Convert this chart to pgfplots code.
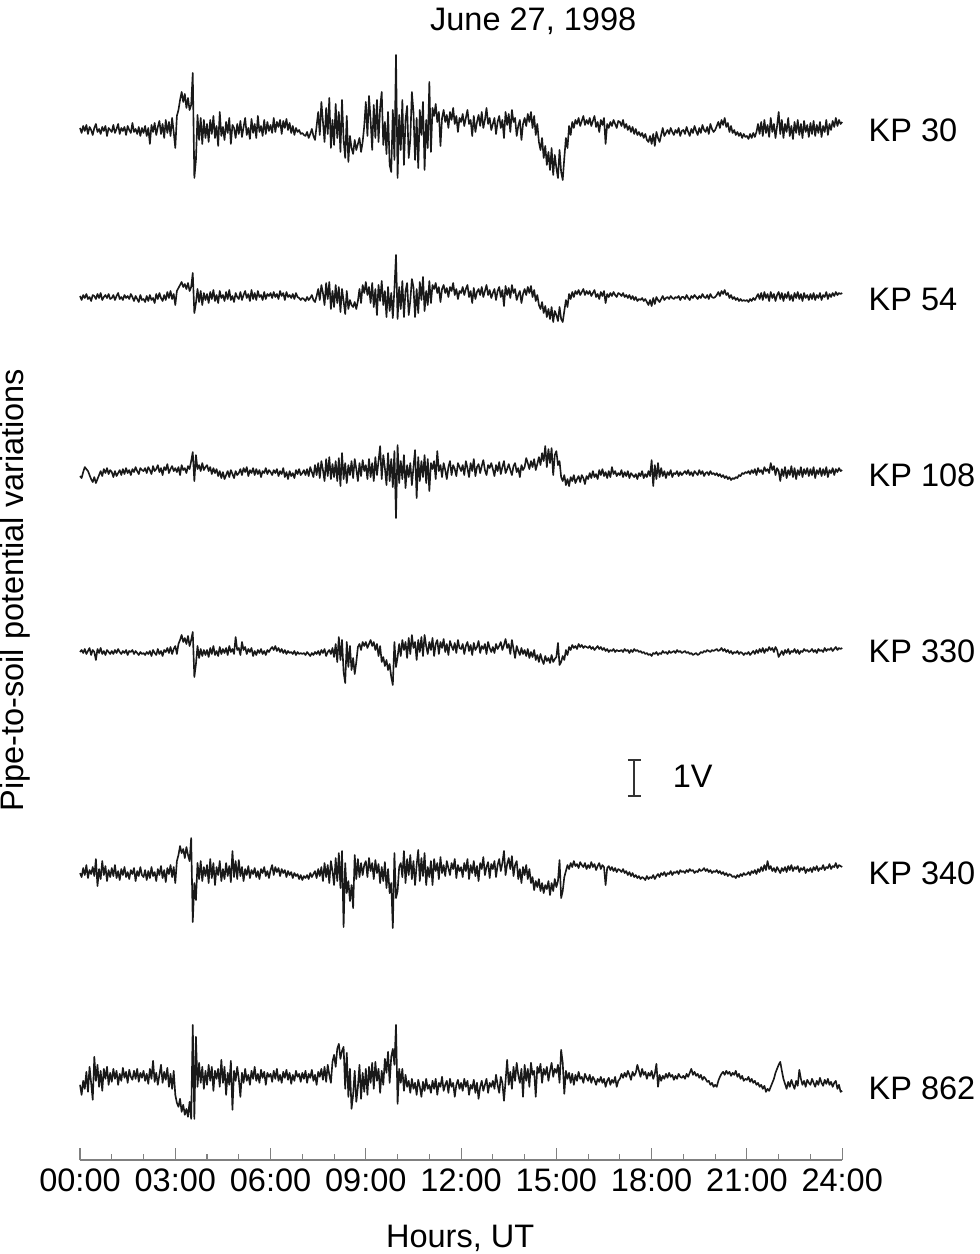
\documentclass[border=0pt]{standalone}
\usepackage{fontspec}
\setmainfont{Liberation Sans}
\usepackage{pgfplots}
\usepackage{pgfplotstable}
\pgfplotsset{compat=1.18}

% one value every 3 minutes (0.05 h), 20 per line = one hour per line
% values are deviations in 1/36 V, positive up
\pgfplotstableread[row sep=\\]{v\\%
2\\-3\\4\\-1\\5\\-4\\3\\0\\-5\\2\\6\\-2\\1\\-4\\3\\-1\\4\\-6\\2\\0\\%
-2\\5\\-3\\1\\6\\-4\\2\\-1\\3\\-5\\4\\0\\-3\\7\\-2\\1\\-4\\3\\-6\\2\\%
-3\\4\\-6\\2\\-14\\5\\-2\\7\\-5\\3\\9\\-4\\6\\-8\\10\\-3\\8\\-6\\12\\-2\\%
-18\\14\\20\\30\\38\\28\\36\\22\\32\\20\\25\\57\\-48\\-30\\15\\-10\\12\\-14\\10\\-8\\%
6\\-12\\10\\-4\\14\\-8\\4\\-16\\18\\-6\\3\\-10\\8\\-3\\12\\-14\\5\\2\\-8\\6\\%
-4\\9\\-7\\3\\12\\-5\\2\\-9\\11\\-3\\6\\-8\\14\\-2\\4\\-6\\10\\-4\\8\\-1\\%
5\\-3\\12\\-2\\8\\3\\10\\-4\\9\\2\\11\\0\\7\\-3\\4\\-5\\2\\-2\\0\\-4\\%
-3\\-5\\-6\\-2\\-8\\-4\\1\\-6\\-10\\4\\18\\-5\\28\\8\\-12\\22\\-4\\32\\-18\\10\\%
-15\\26\\-8\\18\\-22\\30\\-10\\-28\\14\\-32\\-6\\-18\\-24\\-10\\-20\\-14\\-8\\-22\\-12\\4\\%
28\\-6\\34\\10\\-20\\25\\-8\\30\\-12\\22\\38\\-15\\8\\-24\\18\\-35\\-42\\20\\-30\\75\\%
-48\\15\\-20\\30\\-35\\10\\24\\-28\\-10\\38\\18\\-30\\12\\-38\\20\\-5\\28\\-40\\10\\-18\\%
48\\-22\\22\\14\\26\\8\\18\\-16\\12\\20\\8\\15\\2\\18\\10\\22\\6\\14\\-2\\12\\%
8\\16\\4\\12\\20\\6\\10\\-6\\14\\-2\\8\\15\\4\\18\\2\\10\\22\\6\\12\\0\\%
6\\12\\-4\\8\\14\\2\\10\\-8\\18\\5\\16\\-2\\20\\8\\12\\-6\\4\\10\\-10\\6\\%
12\\4\\16\\8\\18\\2\\14\\-5\\6\\-12\\-20\\-8\\-28\\-16\\-35\\-22\\-40\\-18\\-45\\-25\\%
-38\\-48\\-20\\-42\\-50\\-28\\-8\\-18\\4\\-5\\8\\2\\10\\6\\12\\4\\9\\14\\5\\10\\%
6\\12\\4\\9\\14\\3\\8\\-2\\10\\5\\12\\-14\\6\\2\\8\\4\\10\\6\\2\\9\\%
8\\4\\10\\2\\6\\0\\4\\-2\\3\\-4\\1\\-5\\-2\\-6\\-3\\-8\\-4\\-10\\-12\\-6\\%
-14\\-4\\-16\\-2\\-8\\-12\\-5\\2\\-6\\-3\\0\\-4\\2\\-2\\-5\\0\\-3\\2\\-6\\-1\\%
0\\-4\\3\\-2\\-6\\1\\-3\\4\\-1\\-5\\2\\-3\\5\\0\\-2\\3\\-4\\6\\1\\-2\\%
0\\4\\8\\2\\10\\5\\12\\3\\7\\-2\\4\\-3\\0\\-5\\-2\\-6\\-3\\-8\\-4\\-7\\%
-6\\-9\\-4\\-8\\-3\\-7\\-2\\6\\-4\\8\\-6\\10\\-3\\5\\-7\\12\\-2\\6\\-8\\4\\%
18\\-4\\10\\-8\\6\\-2\\12\\-6\\4\\-9\\8\\-3\\10\\-5\\6\\-8\\9\\-2\\5\\-7\\%
7\\-4\\9\\-6\\5\\-3\\8\\-7\\4\\-2\\10\\-5\\6\\0\\9\\3\\12\\4\\10\\6\\%
8\\%
}\kpA

\pgfplotstableread[row sep=\\]{v\\%
1\\-3\\2\\-1\\3\\-2\\0\\-4\\2\\1\\-2\\3\\-1\\4\\-3\\0\\2\\-1\\3\\-2\\%
-1\\2\\-3\\1\\4\\-2\\0\\-3\\2\\-1\\1\\-2\\3\\0\\-4\\1\\-2\\-5\\2\\-3\\%
-2\\-5\\1\\-4\\2\\-3\\-1\\-6\\3\\-2\\4\\-1\\-4\\2\\-3\\5\\-1\\6\\-2\\3\\%
-8\\6\\9\\12\\15\\10\\13\\8\\14\\6\\10\\24\\-16\\-6\\8\\-5\\6\\-8\\4\\-3\\%
3\\-6\\5\\-2\\7\\-4\\2\\-6\\6\\-1\\2\\-4\\5\\-2\\7\\-3\\1\\-5\\4\\0\\%
-2\\5\\-3\\2\\6\\-1\\3\\-4\\7\\-2\\4\\-3\\6\\0\\2\\-3\\5\\-2\\3\\1\\%
4\\-1\\5\\0\\3\\-2\\6\\1\\4\\-3\\5\\0\\2\\-1\\3\\-2\\4\\0\\-1\\-3\\%
-1\\-2\\-4\\0\\-3\\-1\\2\\-3\\-5\\1\\8\\-3\\12\\4\\-8\\14\\-2\\15\\-12\\6\\%
-10\\12\\-6\\10\\-15\\8\\-4\\-17\\6\\-12\\-3\\-8\\-10\\-5\\-12\\-4\\8\\-6\\12\\4\\%
15\\2\\10\\-6\\14\\-10\\8\\-18\\12\\-4\\16\\-8\\6\\-20\\10\\-14\\4\\-21\\8\\42\\%
-22\\10\\-12\\16\\-20\\6\\14\\-18\\-4\\18\\10\\-20\\8\\-16\\15\\-3\\20\\-14\\6\\-8\\%
16\\-6\\12\\8\\14\\4\\10\\-5\\8\\12\\4\\9\\0\\10\\6\\14\\2\\8\\-2\\6\\%
4\\10\\2\\8\\12\\0\\6\\-6\\9\\-2\\5\\8\\2\\10\\0\\6\\12\\2\\7\\-1\\%
4\\8\\-3\\6\\10\\0\\7\\-9\\11\\2\\9\\-1\\12\\4\\8\\-3\\2\\6\\-6\\3\\%
8\\2\\10\\4\\11\\0\\7\\-4\\2\\-8\\-12\\-5\\-16\\-9\\-20\\-12\\-22\\-10\\-25\\-14\\%
-18\\-24\\-10\\-22\\-25\\-14\\-3\\-10\\3\\-2\\5\\0\\6\\3\\7\\2\\5\\8\\2\\6\\%
3\\6\\1\\4\\7\\0\\3\\-2\\5\\1\\6\\-6\\3\\0\\4\\1\\5\\2\\0\\4\\%
3\\1\\4\\0\\2\\-1\\2\\-2\\1\\-3\\0\\-4\\-2\\-3\\-1\\-4\\-2\\-5\\-8\\-3\\%
-9\\-1\\-7\\0\\-3\\-5\\-2\\1\\-3\\-1\\0\\-2\\1\\-1\\-2\\0\\-1\\1\\-3\\0\\%
0\\-2\\2\\-1\\-3\\1\\-1\\2\\0\\-2\\1\\-1\\3\\0\\-1\\2\\-2\\3\\0\\-1\\%
0\\2\\5\\1\\6\\3\\7\\2\\4\\-1\\2\\-2\\0\\-3\\-1\\-4\\-2\\-4\\-3\\-4\\%
-3\\-5\\-2\\-4\\-1\\-3\\0\\3\\-2\\4\\-3\\5\\-1\\3\\-4\\5\\-1\\3\\-4\\2\\%
5\\-2\\4\\-4\\3\\-1\\5\\-3\\2\\-4\\4\\-1\\5\\-2\\3\\-4\\4\\-1\\2\\-3\\%
3\\-2\\4\\-3\\2\\-1\\4\\-3\\2\\0\\5\\-2\\3\\0\\4\\1\\5\\2\\4\\3\\%
4\\%
}\kpB

\pgfplotstableread[row sep=\\]{v\\%
-3\\-5\\1\\6\\4\\2\\-2\\-6\\-9\\-4\\-10\\-6\\-2\\2\\-3\\4\\0\\5\\-1\\3\\%
1\\-4\\2\\-3\\0\\3\\-2\\4\\-1\\5\\0\\3\\-2\\4\\1\\6\\2\\-1\\5\\3\\%
2\\5\\0\\6\\3\\-1\\7\\2\\4\\8\\1\\5\\-2\\6\\3\\9\\0\\4\\7\\2\\%
5\\1\\6\\-2\\8\\3\\5\\0\\7\\4\\12\\21\\-8\\18\\4\\8\\2\\10\\3\\6\\%
8\\2\\6\\-1\\5\\0\\4\\-3\\2\\-5\\1\\-6\\-2\\2\\-4\\3\\-1\\-5\\2\\-2\\%
0\\4\\-2\\5\\1\\6\\-3\\3\\0\\5\\-2\\4\\-1\\3\\-4\\2\\0\\5\\-1\\3\\%
1\\-2\\3\\0\\4\\-3\\2\\-1\\5\\-4\\1\\-6\\2\\-3\\0\\-5\\3\\-1\\4\\-2\\%
0\\3\\-2\\4\\-3\\6\\1\\-4\\8\\-2\\10\\-5\\12\\3\\-8\\14\\-3\\16\\-6\\9\\%
-4\\12\\-8\\15\\-13\\20\\-6\\10\\-10\\8\\-2\\12\\-5\\14\\4\\-8\\10\\-3\\13\\2\\%
8\\-6\\14\\-4\\10\\-8\\16\\-2\\12\\27\\-6\\18\\5\\-12\\20\\-8\\14\\-14\\22\\-45\\%
28\\-10\\12\\-6\\18\\-15\\8\\-4\\10\\-12\\6\\23\\-25\\16\\-8\\12\\-4\\18\\-10\\14\\%
-18\\10\\4\\12\\-6\\22\\2\\8\\-4\\10\\3\\-6\\6\\12\\-2\\8\\4\\-3\\10\\6\\%
2\\8\\-2\\12\\5\\-4\\10\\2\\14\\-3\\6\\9\\0\\7\\13\\3\\-2\\8\\5\\10\\%
4\\-3\\8\\2\\11\\-1\\6\\12\\0\\4\\9\\3\\-2\\7\\10\\1\\5\\-4\\8\\3\\%
6\\15\\10\\4\\12\\6\\14\\3\\9\\16\\8\\20\\12\\27\\6\\24\\10\\25\\-2\\18\\%
22\\8\\12\\-4\\-8\\-2\\-12\\-6\\-13\\-4\\-8\\-2\\-10\\-6\\-3\\-9\\-2\\-5\\-11\\-3\\%
-6\\0\\-5\\2\\-4\\-1\\-6\\3\\-2\\4\\-3\\1\\-5\\2\\-4\\6\\-1\\2\\-3\\0\\%
-2\\3\\-4\\1\\-3\\2\\-5\\0\\-2\\-4\\-1\\-6\\0\\-3\\2\\-5\\-1\\-4\\2\\-3\\%
13\\-13\\8\\-6\\10\\-4\\5\\-3\\2\\-5\\1\\-2\\3\\-4\\0\\-1\\2\\-3\\1\\-2\\%
0\\2\\-1\\3\\-2\\1\\-3\\2\\0\\-2\\3\\-1\\2\\-3\\0\\1\\-2\\2\\-1\\0\\%
-2\\0\\-3\\-1\\-4\\-2\\-5\\-3\\-6\\-4\\-7\\-5\\-6\\-4\\-5\\-2\\-3\\0\\-1\\1\\%
0\\2\\-1\\3\\0\\4\\-2\\5\\1\\3\\-1\\6\\2\\4\\0\\10\\3\\7\\-2\\5\\%
2\\-8\\4\\-3\\6\\-5\\3\\-2\\7\\-4\\5\\-6\\3\\-2\\6\\-4\\4\\-1\\5\\-3\\%
4\\-2\\6\\-5\\3\\-1\\5\\-3\\4\\-2\\6\\-4\\3\\0\\5\\-2\\4\\1\\5\\2\\%
3\\%
}\kpC

\pgfplotstableread[row sep=\\]{v\\%
0\\2\\-1\\3\\-2\\1\\4\\-3\\2\\0\\-8\\3\\-1\\4\\-2\\1\\-3\\2\\0\\-2\\%
1\\-2\\2\\-1\\3\\0\\-2\\1\\-1\\2\\-3\\1\\0\\2\\-2\\1\\-1\\-3\\0\\-2\\%
-1\\-3\\0\\-2\\1\\-4\\2\\-1\\-3\\3\\-2\\1\\-4\\2\\0\\4\\-1\\5\\-2\\3\\%
6\\-2\\8\\12\\17\\10\\14\\8\\16\\6\\12\\20\\-25\\-12\\6\\-6\\3\\-4\\2\\-3\\%
2\\-5\\4\\-2\\6\\-3\\1\\-4\\5\\-2\\3\\-1\\4\\-3\\6\\0\\3\\-2\\15\\2\\%
4\\-3\\10\\2\\5\\-2\\3\\0\\4\\-4\\1\\-3\\2\\-1\\3\\-2\\1\\-3\\2\\0\\%
3\\5\\2\\6\\1\\4\\0\\3\\-1\\2\\-2\\1\\-1\\0\\-2\\1\\-3\\0\\-2\\-1\\%
-2\\-1\\-3\\0\\-2\\-4\\-1\\-3\\0\\-2\\1\\-3\\2\\-1\\3\\-4\\0\\2\\-2\\4\\%
-5\\8\\-10\\15\\-8\\12\\-20\\-31\\10\\-15\\6\\-18\\-6\\-22\\-10\\5\\8\\2\\10\\6\\%
10\\4\\8\\12\\6\\10\\2\\8\\-4\\6\\-10\\-5\\-14\\-8\\-18\\-12\\-25\\-33\\10\\-15\\%
-5\\8\\-4\\12\\2\\10\\-6\\14\\-2\\17\\4\\10\\-8\\12\\0\\15\\-4\\17\\6\\-2\\%
10\\2\\14\\-4\\8\\12\\-2\\10\\4\\13\\0\\8\\-3\\11\\6\\2\\9\\-1\\12\\4\\%
3\\8\\-2\\6\\10\\1\\7\\-3\\9\\2\\5\\11\\-1\\6\\3\\8\\-2\\10\\4\\0\\%
5\\-1\\8\\3\\6\\10\\2\\7\\13\\4\\8\\-2\\12\\3\\-6\\6\\1\\-3\\4\\-2\\%
2\\-4\\3\\-6\\0\\-5\\2\\-8\\-3\\-10\\-2\\-8\\-12\\-4\\-9\\-6\\-11\\-3\\-10\\-7\\%
-5\\9\\-13\\-10\\-4\\-8\\2\\-3\\5\\2\\7\\4\\6\\3\\8\\5\\7\\4\\6\\5\\%
4\\6\\3\\5\\2\\4\\6\\3\\5\\2\\4\\1\\3\\0\\2\\1\\3\\0\\2\\1\\%
1\\2\\0\\3\\1\\2\\-1\\2\\0\\3\\1\\2\\0\\1\\-1\\0\\-2\\-1\\-3\\-2\\%
-4\\-1\\-2\\0\\-3\\-1\\-2\\1\\-1\\0\\-2\\1\\-1\\0\\1\\-1\\2\\0\\1\\-1\\%
0\\1\\-1\\0\\-2\\-1\\-3\\-2\\-1\\-3\\-2\\0\\-1\\1\\0\\2\\1\\0\\2\\1\\%
2\\3\\1\\2\\4\\1\\3\\0\\2\\-1\\1\\-2\\0\\-1\\1\\-2\\0\\-1\\-3\\-1\\%
-2\\0\\-3\\-1\\1\\-2\\2\\-1\\3\\0\\4\\-1\\3\\1\\5\\2\\4\\0\\5\\2\\%
-5\\-2\\1\\-3\\2\\-1\\3\\-2\\1\\0\\3\\-1\\2\\-2\\1\\0\\3\\1\\2\\0\\%
1\\3\\0\\2\\-1\\3\\1\\2\\0\\4\\1\\3\\2\\4\\1\\3\\5\\2\\4\\3\\%
4\\%
}\kpD

\pgfplotstableread[row sep=\\]{v\\%
0\\-4\\5\\-2\\8\\-5\\3\\-1\\6\\-3\\14\\-13\\4\\-6\\12\\-2\\7\\-8\\3\\-4\\%
5\\-3\\8\\-5\\2\\-7\\4\\-2\\6\\-4\\1\\-6\\3\\-1\\5\\-8\\2\\-3\\6\\-2\\%
-4\\3\\-7\\2\\-5\\6\\-3\\1\\-8\\4\\-2\\7\\-5\\3\\-9\\5\\-1\\8\\-4\\6\\%
-10\\12\\18\\27\\20\\24\\15\\26\\18\\12\\35\\-49\\-10\\-27\\10\\-6\\12\\-8\\6\\-3\\%
8\\-10\\14\\-5\\10\\-12\\6\\-2\\12\\-8\\4\\-6\\10\\-3\\7\\-9\\22\\-4\\12\\-6\\%
13\\-3\\6\\-8\\4\\-2\\7\\-5\\3\\-1\\5\\-4\\2\\-6\\4\\0\\6\\-3\\2\\-5\\%
3\\8\\-2\\6\\1\\5\\-3\\4\\0\\3\\-4\\2\\-2\\1\\-5\\0\\-3\\-1\\-6\\-2\\%
-7\\-3\\-5\\-2\\-6\\0\\-4\\-1\\2\\-5\\4\\-3\\6\\-8\\10\\-4\\8\\-10\\12\\2\\%
-12\\15\\-8\\20\\-15\\22\\-54\\10\\-20\\-8\\-28\\-12\\-35\\18\\-6\\14\\-4\\10\\-2\\8\\%
12\\-4\\15\\2\\10\\-6\\13\\0\\9\\-10\\6\\-8\\11\\-15\\4\\-20\\-10\\-55\\20\\-25\\%
-18\\6\\10\\-4\\22\\-10\\14\\-2\\18\\-6\\12\\-12\\8\\23\\-8\\15\\-3\\20\\-12\\6\\%
-4\\12\\-12\\14\\2\\10\\-6\\16\\0\\8\\-3\\12\\5\\-2\\10\\4\\14\\-5\\8\\2\\%
6\\-4\\10\\2\\14\\-6\\8\\0\\12\\-3\\7\\-8\\10\\4\\16\\-2\\6\\11\\-5\\9\\%
4\\12\\-4\\8\\14\\2\\10\\22\\-2\\9\\15\\4\\17\\-3\\8\\12\\-6\\4\\-10\\6\\%
-2\\8\\-6\\4\\-10\\-4\\-17\\-8\\-14\\-6\\-18\\-10\\-20\\-12\\-16\\-8\\-22\\-10\\-18\\-6\\%
-14\\-8\\13\\-25\\-18\\-4\\2\\8\\4\\10\\6\\12\\7\\9\\5\\11\\8\\6\\10\\4\\%
8\\5\\11\\6\\9\\3\\7\\10\\4\\8\\6\\-12\\5\\7\\3\\6\\2\\5\\1\\4\\%
3\\1\\4\\0\\2\\-2\\1\\-3\\0\\-4\\-2\\-5\\-3\\-6\\-4\\-5\\-7\\-3\\-6\\-4\\%
-5\\-2\\-6\\-3\\-1\\-4\\0\\-2\\1\\-3\\0\\-1\\2\\-2\\1\\0\\2\\-1\\3\\1\\%
2\\0\\3\\1\\4\\2\\3\\0\\2\\1\\4\\2\\3\\5\\2\\4\\1\\3\\0\\2\\%
1\\3\\0\\2\\-1\\1\\-2\\0\\-3\\-1\\-2\\-4\\-3\\-5\\-2\\-4\\-1\\-3\\0\\-2\\%
-1\\1\\-2\\2\\0\\3\\-1\\4\\1\\6\\2\\8\\3\\12\\4\\7\\2\\5\\1\\6\\%
3\\0\\5\\2\\6\\1\\7\\3\\8\\2\\6\\4\\7\\1\\5\\3\\6\\0\\4\\2\\%
5\\1\\6\\3\\7\\2\\5\\4\\8\\3\\6\\5\\9\\4\\7\\6\\10\\5\\8\\7\\%
6\\%
}\kpE

\pgfplotstableread[row sep=\\]{v\\%
-8\\-18\\-4\\-12\\5\\-15\\10\\-6\\-23\\20\\-4\\12\\-10\\6\\-14\\8\\-2\\10\\-8\\4\\%
-5\\8\\-2\\6\\-8\\3\\-4\\9\\-1\\5\\-6\\7\\0\\-3\\6\\-2\\8\\-5\\4\\-1\\%
6\\-4\\3\\-7\\8\\-2\\16\\-5\\4\\-8\\2\\12\\-6\\5\\-3\\9\\-10\\3\\-12\\6\\%
-18\\-26\\-30\\-22\\-35\\-28\\-38\\-32\\-40\\-25\\-42\\52\\-42\\40\\-10\\14\\-6\\10\\-12\\6\\%
-8\\12\\-4\\10\\-14\\6\\-2\\8\\-10\\17\\-6\\10\\-18\\4\\-8\\16\\-33\\6\\-4\\10\\%
-2\\-20\\4\\-6\\8\\-4\\2\\-8\\6\\-2\\10\\-4\\3\\-6\\7\\-1\\5\\-8\\4\\0\\%
3\\-5\\6\\-2\\8\\-4\\2\\-6\\5\\-1\\7\\-3\\4\\-7\\2\\-4\\6\\0\\3\\-5\\%
4\\-2\\6\\-6\\3\\-1\\7\\-4\\2\\-8\\5\\0\\8\\-3\\10\\-5\\12\\2\\-6\\15\\%
22\\10\\28\\33\\18\\26\\30\\-12\\24\\-20\\8\\-32\\-18\\6\\-25\\-10\\12\\-22\\4\\-15\\%
8\\-18\\10\\-6\\14\\-12\\15\\-4\\8\\-16\\6\\-8\\18\\4\\25\\-6\\20\\28\\12\\52\\%
-27\\8\\-6\\8\\-14\\2\\-10\\-4\\-16\\-2\\-12\\-6\\-18\\-3\\-10\\-20\\-5\\-14\\-2\\-12\\%
-8\\-16\\-4\\-12\\-2\\-18\\-6\\-10\\0\\-14\\-8\\-4\\-16\\-2\\-10\\-6\\-20\\-8\\-3\\-12\\%
-6\\-14\\-2\\-10\\-4\\-18\\-8\\-12\\-3\\-16\\-6\\-22\\-10\\-4\\-14\\-8\\-2\\-16\\-6\\-10\\%
-4\\-12\\2\\-8\\-16\\0\\-6\\-24\\-4\\17\\-8\\5\\-12\\10\\-4\\14\\2\\-6\\8\\-20\\%
12\\-4\\8\\-10\\14\\2\\6\\-20\\10\\4\\13\\-6\\8\\2\\10\\-4\\6\\14\\0\\8\\%
4\\12\\-6\\27\\14\\-17\\6\\-2\\4\\-6\\3\\-8\\2\\-4\\5\\-2\\0\\-6\\3\\-1\\%
-4\\2\\-6\\0\\-3\\-8\\-2\\-5\\0\\-6\\-2\\-10\\-4\\-1\\-8\\-3\\-6\\0\\-10\\-4\\%
-2\\3\\-1\\4\\0\\6\\2\\-3\\5\\1\\4\\12\\6\\0\\8\\2\\5\\-2\\4\\1\\%
6\\-2\\3\\13\\-10\\2\\-4\\1\\-2\\3\\-1\\4\\0\\2\\-3\\1\\-2\\3\\0\\-1\\%
1\\-2\\3\\0\\4\\8\\2\\5\\1\\3\\-1\\2\\-3\\0\\-2\\-5\\-4\\-8\\-6\\-10\\%
-8\\-10\\-4\\0\\3\\5\\2\\6\\3\\5\\1\\4\\2\\6\\0\\3\\-2\\1\\-4\\-2\\%
-3\\0\\-5\\-2\\-6\\-4\\-8\\-6\\-10\\-8\\-12\\-9\\-15\\-12\\-14\\-10\\-6\\-2\\4\\8\\%
12\\15\\6\\-2\\-7\\-12\\-5\\-10\\-3\\-8\\-12\\-4\\-9\\7\\-2\\-8\\-4\\-10\\-3\\-6\\%
-8\\-2\\-6\\-10\\-4\\-8\\-1\\-6\\-9\\-3\\-7\\-2\\-8\\-5\\-10\\-6\\-4\\-12\\-8\\-15\\%
-14\\%
}\kpF

\begin{document}
\begin{tikzpicture}[font=\fontsize{13}{15}\selectfont]
\begin{axis}[
  scale only axis,
  width=304.8pt, height=440pt,
  xmin=0, xmax=24, ymin=0, ymax=30.56,
  clip=false,
  axis x line*=bottom,
  axis y line=none,
  xtick={0,3,...,24},
  xticklabels={00:00,03:00,06:00,09:00,12:00,15:00,18:00,21:00,24:00},
  minor x tick num=2,
  tick align=inside,
  major tick length=4.8pt,
  minor tick length=2.4pt,
  axis line style={black!50, line width=0.45pt},
  every tick/.style={black!50, line width=0.45pt},
  trace/.style={black!90, line width=0.65pt, line join=round},
]
\addplot[trace] table[x index=0, y index=0, x expr=\coordindex/20, y expr=28.61+\thisrow{v}/36] {\kpA};
\addplot[trace] table[x index=0, y index=0, x expr=\coordindex/20, y expr=23.97+\thisrow{v}/36] {\kpB};
\addplot[trace] table[x index=0, y index=0, x expr=\coordindex/20, y expr=19.08+\thisrow{v}/36] {\kpC};
\addplot[trace] table[x index=0, y index=0, x expr=\coordindex/20, y expr=14.11+\thisrow{v}/36] {\kpD};
\addplot[trace] table[x index=0, y index=0, x expr=\coordindex/20, y expr=7.97+\thisrow{v}/36] {\kpE};
\addplot[trace] table[x index=0, y index=0, x expr=\coordindex/20, y expr=2.31+\thisrow{v}/36] {\kpF};

% labels on the right
\begin{scope}[every node/.style={inner sep=0pt, anchor=west}]
\node at (axis cs:24.82,28.61) {KP 30};
\node at (axis cs:24.82,23.89) {KP 54};
\node at (axis cs:24.82,19.03) {KP 108};
\node at (axis cs:24.82,14.14) {KP 330};
\node at (axis cs:24.82,7.97) {KP 340};
\node at (axis cs:24.82,2.00) {KP 862};
\node at (axis cs:18.65,10.67) {1V};
\end{scope}

% 1 V scale bar
\draw[black!80, line width=0.6pt]
  (axis cs:17.25,11.11) -- (axis cs:17.65,11.11)
  (axis cs:17.45,11.11) -- (axis cs:17.45,10.11)
  (axis cs:17.25,10.11) -- (axis cs:17.65,10.11);

\node[anchor=base] at (axis cs:14.27,31.36) {June 27, 1998};
\node[anchor=base] at (axis cs:11.97,-2.42) {Hours, UT};
\node[rotate=90] at (axis cs:-2.05,15.83) {Pipe-to-soil potential variations};

\coordinate (bl) at (axis cs:-2.52,-2.611);
\coordinate (tr) at (axis cs:28.31,32.22);
\end{axis}
\pgfresetboundingbox
\path[use as bounding box] (bl) rectangle (tr);
\end{tikzpicture}
\end{document}
